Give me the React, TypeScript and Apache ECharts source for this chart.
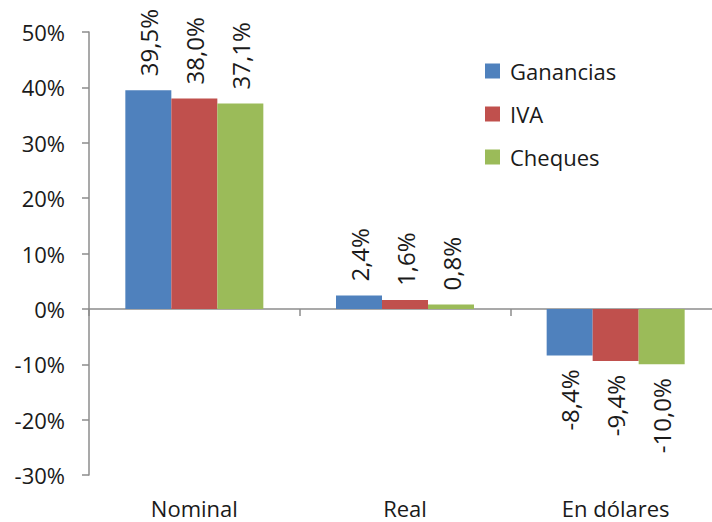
import React, { useEffect, useRef } from "react";
import * as echarts from "echarts";

const categories = ["Nominal", "Real", "En dólares"];
const seriesNames = ["Ganancias", "IVA", "Cheques"];
const ganancias = [39.5, 2.4, -8.4];
const iva = [38.0, 1.6, -9.4];
const cheques = [37.1, 0.8, -10.0];
const colors = ["#4F81BD", "#C0504D", "#9BBB59"];

const FONT = "'Open Sans', 'Noto Sans', sans-serif";

function makeData(values: number[]) {
  return values.map((v) => ({
    value: v,
    label:
      v >= 0
        ? { position: "top", align: "left", verticalAlign: "middle" }
        : { position: "bottom", align: "right", verticalAlign: "middle" },
  }));
}

export default function App() {
  const ref = useRef<HTMLDivElement>(null);
  useEffect(() => {
    if (!ref.current) return;
    const chart = echarts.init(ref.current, undefined, { renderer: "svg" });
    const allValues = [ganancias, iva, cheques];
    chart.setOption({
      animation: false,
      backgroundColor: "#ffffff",
      grid: { left: 89, right: 3, top: 32, bottom: 47, containLabel: false },
      legend: {
        orient: "vertical",
        left: 480,
        top: 55,
        itemWidth: 15,
        itemHeight: 15,
        itemGap: 21,
        icon: "rect",
        textStyle: {
          fontFamily: FONT,
          fontSize: 22,
          color: "#1a1a1a",
          padding: [0, 0, 0, 5],
        },
        data: seriesNames,
      },
      xAxis: [
        {
          type: "category",
          data: categories,
          position: "bottom",
          axisLine: { onZero: true, lineStyle: { color: "#8c8c8c", width: 1.5 } },
          axisTick: { show: true, length: 7, lineStyle: { color: "#8c8c8c", width: 1.5 } },
          axisLabel: { show: false },
          splitLine: { show: false },
        },
        {
          type: "category",
          data: categories,
          position: "bottom",
          offset: 0,
          axisLine: { show: false, onZero: false },
          axisTick: { show: false },
          axisLabel: {
            show: true,
            margin: 22,
            fontFamily: FONT,
            fontSize: 22,
            lineHeight: 22,
            color: "#1a1a1a",
          },
          splitLine: { show: false },
        },
      ],
      yAxis: {
        type: "value",
        min: -30,
        max: 50,
        interval: 10,
        axisLine: { show: true, lineStyle: { color: "#8c8c8c", width: 1.5 } },
        axisTick: { show: true, length: 7, lineStyle: { color: "#8c8c8c", width: 1.5 } },
        axisLabel: {
          formatter: "{value}%",
          margin: 24,
          fontFamily: FONT,
          fontSize: 22,
          color: "#1a1a1a",
        },
        splitLine: { show: false },
      },
      series: seriesNames.map((name, i) => ({
        name,
        type: "bar",
        xAxisIndex: 0,
        barWidth: 46,
        barGap: "0%",
        itemStyle: { color: colors[i] },
        data: makeData(allValues[i]),
        label: {
          show: true,
          rotate: 90,
          distance: 14,
          fontFamily: FONT,
          fontSize: 24,
          color: "#1a1a1a",
          formatter: (p: any) => p.value.toFixed(1).replace(".", ",") + "%",
        },
      })),
    });
    return () => chart.dispose();
  }, []);
  return (
    <div
      style={{
        position: "fixed",
        left: 0,
        top: 0,
        width: 712,
        height: 522,
        overflow: "hidden",
        background: "#ffffff",
      }}
    >
      <div ref={ref} style={{ width: 724, height: 522 }} />
    </div>
  );
}
